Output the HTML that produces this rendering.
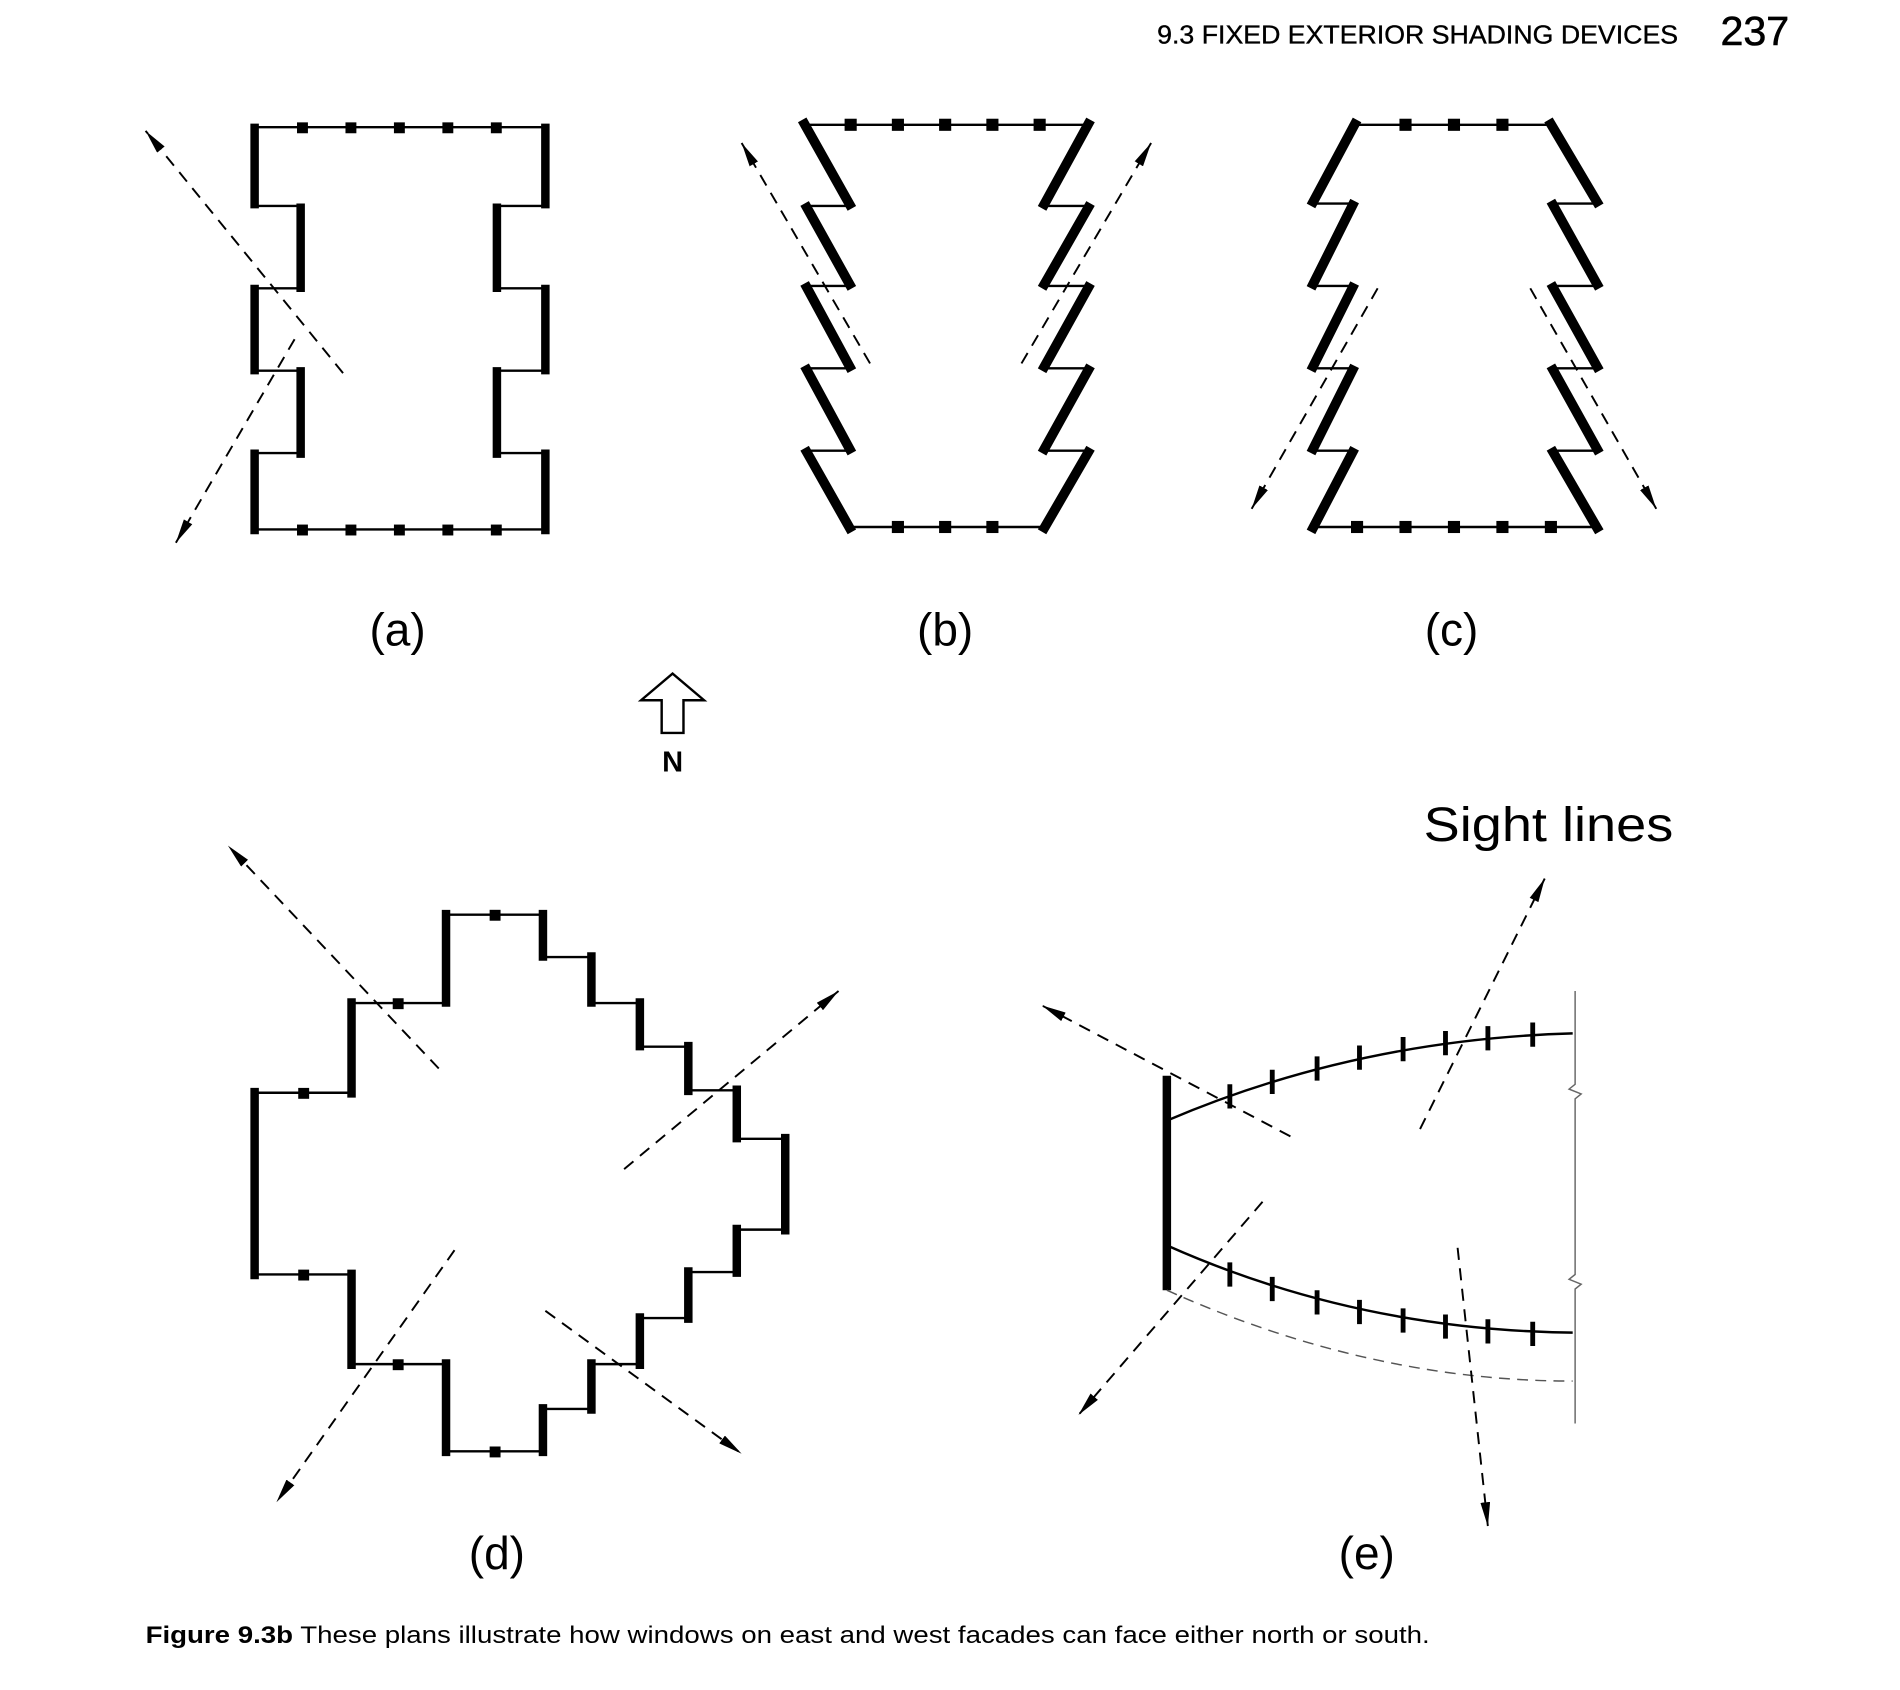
<!DOCTYPE html>
<html><head><meta charset="utf-8"><style>
html,body{margin:0;padding:0;background:#fff;}
svg{display:block;}
</style></head><body>
<svg width="1900" height="1690" viewBox="0 0 1568 1395" xmlns="http://www.w3.org/2000/svg">
<defs>
<marker id="ar" viewBox="0 0 20 8" refX="20" refY="4" markerWidth="20" markerHeight="8" markerUnits="userSpaceOnUse" orient="auto"><path d="M0,0 L20,4 L0,8 z" fill="#000"/></marker>
</defs>
<g font-family="Liberation Sans, sans-serif" fill="#000">
<text x="955" y="36" font-size="21" textLength="430" lengthAdjust="spacingAndGlyphs" stroke="#000" stroke-width="0.3">9.3 FIXED EXTERIOR SHADING DEVICES</text>
<text x="1420" y="37" font-size="34" stroke="#000" stroke-width="0.5">237</text>
<text x="328" y="533" font-size="38" text-anchor="middle">(a)</text>
<text x="780" y="533" font-size="38" text-anchor="middle">(b)</text>
<text x="1198" y="533" font-size="38" text-anchor="middle">(c)</text>
<text x="410" y="1295" font-size="38" text-anchor="middle">(d)</text>
<text x="1128" y="1295" font-size="38" text-anchor="middle">(e)</text>
<text x="555" y="637" font-size="24" font-weight="bold" text-anchor="middle">N</text>
<text x="1175" y="694" font-size="40" textLength="206" lengthAdjust="spacingAndGlyphs">Sight lines</text>
<text x="120" y="1356" font-size="20" textLength="1060" lengthAdjust="spacingAndGlyphs"><tspan font-weight="bold">Figure 9.3b</tspan> These plans illustrate how windows on east and west facades can face either north or south.</text>
</g>
<path d="M546,605 L546,578 L529,578 L555,556 L581,578 L564,578 L564,605 Z" fill="#fff" stroke="#000" stroke-width="2"/>

<g stroke="#000" fill="none" stroke-linecap="butt">
<!-- (a) -->
<g stroke-width="2">
<path d="M210,105 H450 M210,437 H450 M210,170 H248 M248,238 H210 M248,306 H210 M210,374 H248 M450,170 H410 M410,238 H450 M410,306 H450 M450,374 H410"/>
</g>
<g stroke-width="7">
<path d="M210,102 V172 M248,168 V241 M210,235 V309 M248,303 V378 M210,371 V441 M450,102 V172 M410,168 V241 M450,235 V309 M410,303 V378 M450,371 V441"/>
</g>
<g fill="#000" stroke="none">
<rect x="245" y="101" width="9" height="9"/><rect x="285" y="101" width="9" height="9"/><rect x="325" y="101" width="9" height="9"/><rect x="365" y="101" width="9" height="9"/><rect x="405" y="101" width="9" height="9"/>
<rect x="245" y="433" width="9" height="9"/><rect x="285" y="433" width="9" height="9"/><rect x="325" y="433" width="9" height="9"/><rect x="365" y="433" width="9" height="9"/><rect x="405" y="433" width="9" height="9"/>
</g>
<g stroke-width="1.6" stroke-dasharray="10,7">
<path d="M283,308 L120,108" marker-end="url(#ar)"/>
<path d="M243,280 L145,448" marker-end="url(#ar)"/>
</g>

<!-- (b) -->
<g stroke-width="2">
<path d="M664,103 H900 M703,435 H860 M703,170 H664 M703,236 H664 M703,304 H664 M703,372 H664 M860,170 H900 M860,236 H900 M860,304 H900 M860,372 H900"/>
</g>
<g stroke-width="8">
<path d="M662,99 L703,172 M664,168 L703,238 M664,234 L703,306 M664,302 L703,374 M664,370 L703,439 M900,99 L860,172 M900,168 L860,238 M900,234 L860,306 M900,302 L860,374 M900,370 L860,439"/>
</g>
<g fill="#000" stroke="none">
<rect x="697" y="98" width="10" height="10"/><rect x="736" y="98" width="10" height="10"/><rect x="775" y="98" width="10" height="10"/><rect x="814" y="98" width="10" height="10"/><rect x="853" y="98" width="10" height="10"/>
<rect x="736" y="430" width="10" height="10"/><rect x="775" y="430" width="10" height="10"/><rect x="814" y="430" width="10" height="10"/>
</g>
<g stroke-width="1.6" stroke-dasharray="10,7">
<path d="M718,300 L612,118" marker-end="url(#ar)"/>
<path d="M843,300 L950,118" marker-end="url(#ar)"/>
</g>

<!-- (c) -->
<g stroke-width="2">
<path d="M1120,103 H1278 M1082,435 H1320 M1082,168 H1118 M1082,236 H1118 M1082,304 H1118 M1082,372 H1118 M1320,168 H1282 M1320,236 H1282 M1320,304 H1282 M1320,372 H1282"/>
</g>
<g stroke-width="8">
<path d="M1120,99 L1082,170 M1118,166 L1082,238 M1118,234 L1082,306 M1118,302 L1082,374 M1118,370 L1082,439 M1278,99 L1320,170 M1280,166 L1320,238 M1280,234 L1320,306 M1280,302 L1320,374 M1280,370 L1320,439"/>
</g>
<g fill="#000" stroke="none">
<rect x="1155" y="98" width="10" height="10"/><rect x="1195" y="98" width="10" height="10"/><rect x="1235" y="98" width="10" height="10"/>
<rect x="1115" y="430" width="10" height="10"/><rect x="1155" y="430" width="10" height="10"/><rect x="1195" y="430" width="10" height="10"/><rect x="1235" y="430" width="10" height="10"/><rect x="1275" y="430" width="10" height="10"/>
</g>
<g stroke-width="1.6" stroke-dasharray="10,7">
<path d="M1137,238 L1033,420" marker-end="url(#ar)"/>
<path d="M1263,238 L1367,420" marker-end="url(#ar)"/>
</g>

<!-- (d) -->
<g stroke-width="2">
<path d="M368,755 H448 M448,790 H488 M488,828 H528 M528,864 H568 M568,900 H608 M608,940 H648 M648,1015 H608 M608,1050 H568 M568,1088 H528 M528,1126 H488 M488,1163 H448 M448,1198 H368 M368,1126 H290 M290,1052 H210 M210,902 H290 M290,828 H368"/>
</g>
<g stroke-width="7">
<path d="M368,751 V831 M448,751 V793 M488,786 V831 M528,824 V867 M568,860 V904 M608,896 V943 M648,936 V1019 M608,1011 V1054 M568,1046 V1092 M528,1084 V1130 M488,1122 V1167 M448,1159 V1202 M368,1122 V1202 M290,1048 V1130 M210,898 V1056 M290,824 V906"/>
</g>
<g fill="#000" stroke="none">
<rect x="404" y="751" width="9" height="9"/><rect x="404" y="1194" width="9" height="9"/>
<rect x="324" y="1122" width="9" height="9"/><rect x="246" y="1048" width="9" height="9"/>
<rect x="246" y="898" width="9" height="9"/><rect x="324" y="824" width="9" height="9"/>
</g>
<g stroke-width="1.6" stroke-dasharray="10,7">
<path d="M362,882 L188,698" marker-end="url(#ar)"/>
<path d="M515,965 L692,818" marker-end="url(#ar)"/>
<path d="M375,1032 L228,1240" marker-end="url(#ar)"/>
<path d="M450,1082 L612,1200" marker-end="url(#ar)"/>
</g>

<!-- (e) -->
<path d="M963,888 V1065" stroke-width="7"/>
<path d="M963,925 Q1120,858 1298,853" stroke-width="2"/>
<path d="M963,1028 Q1120,1098 1298,1100" stroke-width="2"/>
<path d="M963,1065 Q1130,1140 1298,1140" stroke-width="1.2" stroke="#555" stroke-dasharray="9,6"/>
<path d="M1300,818 V895 L1295,899 L1305,903 L1300,907 V1052 L1295,1056 L1305,1060 L1300,1064 V1175" stroke-width="1.2" stroke="#666"/>
<g stroke-width="4">
<path d="M1015,895 V915 M1050,883 V903 M1087,872 V892 M1122,863 V883 M1158,856 V876 M1193,851 V871 M1228,847 V867 M1265,844 V864"/>
<path d="M1015,1042 V1062 M1050,1054 V1074 M1087,1065 V1085 M1122,1073 V1093 M1158,1080 V1100 M1193,1085 V1105 M1228,1089 V1109 M1265,1091 V1111"/>
</g>
<g stroke-width="1.6" stroke-dasharray="10,7">
<path d="M1065,938 L860,830" marker-end="url(#ar)"/>
<path d="M1172,932 L1275,725" marker-end="url(#ar)"/>
<path d="M1042,992 L890,1168" marker-end="url(#ar)"/>
<path d="M1203,1030 L1228,1260" marker-end="url(#ar)"/>
</g>
</g>
</svg>
</body></html>
